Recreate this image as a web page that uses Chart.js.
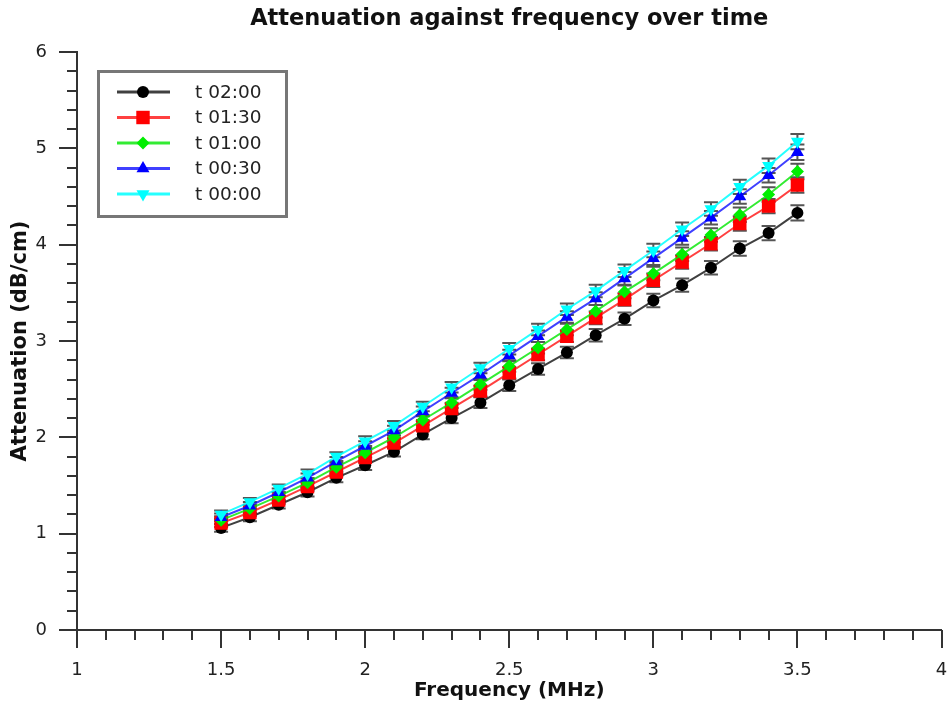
<!DOCTYPE html>
<html>
<head>
<meta charset="utf-8">
<script src="https://cdn.jsdelivr.net/npm/chart.js@4/dist/chart.umd.min.js"></script>
<style>
  html, body { margin: 0; padding: 0; background: #fff; }
</style>
</head>
<body>
<canvas id="myChart" width="951" height="706"></canvas>
<script>
// frequency steps (MHz)
const freqs = [1.5, 1.6, 1.7, 1.8, 1.9, 2.0, 2.1, 2.2, 2.3, 2.4, 2.5, 2.6, 2.7, 2.8, 2.9, 3.0, 3.1, 3.2, 3.3, 3.4, 3.5];

// attenuation (dB/cm) per time step
const t0200 = [1.06, 1.17, 1.30, 1.43, 1.58, 1.71, 1.85, 2.03, 2.20, 2.36, 2.54, 2.71, 2.88, 3.06, 3.23, 3.42, 3.58, 3.76, 3.96, 4.12, 4.33];
const t0130 = [1.11, 1.22, 1.35, 1.49, 1.64, 1.79, 1.94, 2.12, 2.30, 2.48, 2.67, 2.86, 3.05, 3.24, 3.43, 3.63, 3.82, 4.01, 4.22, 4.40, 4.62];
const t0100 = [1.14, 1.26, 1.39, 1.53, 1.69, 1.84, 2.00, 2.18, 2.36, 2.55, 2.74, 2.93, 3.12, 3.31, 3.51, 3.70, 3.90, 4.10, 4.31, 4.52, 4.76];
const t0030 = [1.17, 1.29, 1.43, 1.58, 1.75, 1.91, 2.07, 2.27, 2.46, 2.65, 2.85, 3.05, 3.25, 3.44, 3.65, 3.86, 4.07, 4.28, 4.50, 4.72, 4.96];
const t0000 = [1.20, 1.33, 1.47, 1.62, 1.80, 1.96, 2.12, 2.32, 2.52, 2.72, 2.92, 3.12, 3.33, 3.52, 3.73, 3.94, 4.16, 4.37, 4.60, 4.82, 5.07];

// error bar half-heights
const errBars = [0.04, 0.04, 0.04, 0.045, 0.045, 0.05, 0.05, 0.05, 0.055, 0.055, 0.06, 0.06, 0.06, 0.065, 0.065, 0.07, 0.07, 0.07, 0.075, 0.075, 0.08];

const seriesLabels = ['t 02:00', 't 01:30', 't 01:00', 't 00:30', 't 00:00'];
const xTickLabels = ['1', '1.5', '2', '2.5', '3', '3.5', '4'];
const yTickLabels = ['0', '1', '2', '3', '4', '5', '6'];

const FONT = 'DejaVu Sans';

function pts(vals) {
    return freqs.map((f, i) => ({ x: f, y: vals[i] }));
}

function isMult(v, step) {
    const r = v / step;
    return Math.abs(r - Math.round(r)) < 1e-6;
}

const datasets = [
    { label: seriesLabels[0], data: pts(t0200), borderColor: 'rgba(0,0,0,0.75)', backgroundColor: '#000000',
      pointStyle: 'circle', pointRadius: 6, order: 4 },
    { label: seriesLabels[1], data: pts(t0130), borderColor: 'rgba(255,0,0,0.75)', backgroundColor: '#ff0000',
      pointStyle: 'rect', pointRadius: 9.5, order: 3 },
    { label: seriesLabels[2], data: pts(t0100), borderColor: 'rgba(0,230,0,0.8)', backgroundColor: '#00ee00',
      pointStyle: 'rectRot', pointRadius: 6.5, order: 2 },
    { label: seriesLabels[3], data: pts(t0030), borderColor: 'rgba(0,0,255,0.75)', backgroundColor: '#0000ff',
      pointStyle: 'triangle', pointRadius: 7.5, order: 1 },
    { label: seriesLabels[4], data: pts(t0000), borderColor: 'rgba(0,255,255,0.85)', backgroundColor: '#00ffff',
      pointStyle: 'triangle', pointRotation: 180, pointRadius: 7.5, order: 0 }
];
datasets.forEach(ds => {
    ds.borderWidth = 2;
    ds.pointBorderWidth = 0;
    ds.pointBackgroundColor = ds.backgroundColor;
    ds.pointBorderColor = ds.backgroundColor;
    ds.fill = false;
    ds.tension = 0;
});

// vertical error bars drawn behind the markers
const errorBarPlugin = {
    id: 'errorBars',
    beforeDatasetsDraw(chart) {
        const ctx = chart.ctx;
        const xs = chart.scales.x, ys = chart.scales.y;
        ctx.save();
        ctx.strokeStyle = '#555555';
        ctx.lineWidth = 2;
        chart.data.datasets.forEach(ds => {
            ds.data.forEach((p, i) => {
                const px = xs.getPixelForValue(p.x);
                const top = ys.getPixelForValue(p.y + errBars[i]);
                const bot = ys.getPixelForValue(p.y - errBars[i]);
                ctx.beginPath();
                ctx.moveTo(px, top); ctx.lineTo(px, bot);
                ctx.moveTo(px - 7, top); ctx.lineTo(px + 7, top);
                ctx.moveTo(px - 7, bot); ctx.lineTo(px + 7, bot);
                ctx.stroke();
            });
        });
        ctx.restore();
    }
};

// outward tick marks, long at labelled values
const tickMarkPlugin = {
    id: 'tickMarks',
    afterDraw(chart) {
        const ctx = chart.ctx;
        const xs = chart.scales.x, ys = chart.scales.y;
        ctx.save();
        ctx.strokeStyle = '#333333';
        ctx.lineWidth = 2;
        ctx.beginPath();
        xs.ticks.forEach(t => {
            const px = Math.round(xs.getPixelForValue(t.value));
            const len = isMult(t.value, 0.5) ? 18 : 10;
            ctx.moveTo(px, ys.bottom);
            ctx.lineTo(px, ys.bottom + len);
        });
        ys.ticks.forEach(t => {
            const py = Math.round(ys.getPixelForValue(t.value));
            const len = isMult(t.value, 1) ? 18 : 10;
            ctx.moveTo(xs.left, py);
            ctx.lineTo(xs.left - len, py);
        });
        ctx.stroke();
        ctx.restore();
    }
};

// chart title centred over the plot area
const titlePlugin = {
    id: 'plotTitle',
    afterDraw(chart) {
        const ctx = chart.ctx;
        const area = chart.chartArea;
        ctx.save();
        ctx.font = 'bold 22.5px ' + FONT;
        ctx.fillStyle = '#111111';
        ctx.textAlign = 'center';
        ctx.textBaseline = 'middle';
        ctx.fillText('Attenuation against frequency over time', (area.left + area.right) / 2, 19);
        ctx.restore();
    }
};

// boxed legend inside the plot
const legendPlugin = {
    id: 'boxLegend',
    afterDraw(chart) {
        const ctx = chart.ctx;
        ctx.save();
        ctx.strokeStyle = '#777777';
        ctx.lineWidth = 3;
        ctx.strokeRect(98.5, 71.5, 188, 145);
        chart.data.datasets.forEach((ds, i) => {
            const y = 92 + i * 25.5;
            ctx.strokeStyle = ds.borderColor;
            ctx.lineWidth = 3;
            ctx.beginPath();
            ctx.moveTo(117, y);
            ctx.lineTo(170, y);
            ctx.stroke();
            ctx.fillStyle = ds.backgroundColor;
            ctx.strokeStyle = ds.backgroundColor;
            Chart.helpers.drawPoint(ctx, {
                pointStyle: ds.pointStyle,
                rotation: ds.pointRotation || 0,
                radius: ds.pointRadius,
                borderWidth: 0
            }, 143, y);
            ctx.fillStyle = '#222222';
            ctx.font = '18.5px ' + FONT;
            ctx.textAlign = 'left';
            ctx.textBaseline = 'middle';
            ctx.fillText(ds.label, 195, y + 1);
        });
        ctx.restore();
    }
};

const ctx = document.getElementById('myChart').getContext('2d');
const myChart = new Chart(ctx, {
    type: 'line',
    data: { datasets: datasets },
    options: {
        responsive: false,
        animation: false,
        layout: { padding: { top: 52, right: 2, left: 0, bottom: 0 } },
        plugins: {
            legend: { display: false },
            title: { display: false },
            tooltip: { enabled: false }
        },
        scales: {
            x: {
                type: 'linear',
                min: 1,
                max: 4,
                grid: { display: false },
                border: { display: true, color: '#333333', width: 2 },
                ticks: {
                    stepSize: 0.1,
                    autoSkip: false,
                    maxRotation: 0,
                    padding: 22,
                    color: '#222222',
                    font: { family: FONT, size: 18 },
                    callback: v => {
                        const k = Math.round(v * 2) - 2;
                        return isMult(v, 0.5) ? xTickLabels[k] : '';
                    }
                },
                title: {
                    display: true,
                    text: 'Frequency (MHz)',
                    color: '#111111',
                    font: { family: FONT, size: 20, weight: 'bold' },
                    padding: { top: 0, bottom: 3 }
                },
                afterFit: s => {
                    s.height = 76;
                    s.paddingLeft = 0;
                    s.paddingRight = 0;
                }
            },
            y: {
                type: 'linear',
                min: 0,
                max: 6,
                grid: { display: false },
                border: { display: true, color: '#333333', width: 2 },
                ticks: {
                    stepSize: 0.2,
                    autoSkip: false,
                    padding: 22,
                    color: '#222222',
                    font: { family: FONT, size: 18 },
                    callback: v => isMult(v, 1) ? yTickLabels[Math.round(v)] : ''
                },
                title: {
                    display: true,
                    text: 'Attenuation (dB/cm)',
                    color: '#111111',
                    font: { family: FONT, size: 21, weight: 'bold' },
                    padding: { top: 8, bottom: 0 }
                },
                afterFit: s => {
                    s.width = 77;
                    s.paddingTop = 0;
                    s.paddingBottom = 0;
                }
            }
        }
    },
    plugins: [errorBarPlugin, tickMarkPlugin, titlePlugin, legendPlugin]
});
</script>
</body>
</html>
